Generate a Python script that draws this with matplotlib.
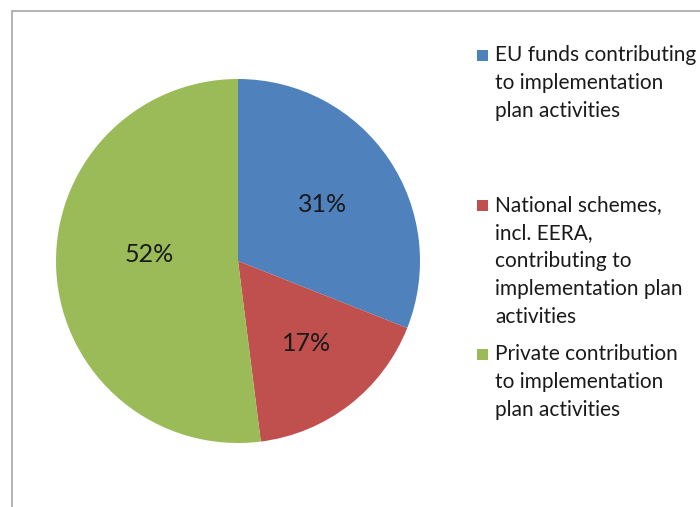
import matplotlib.pyplot as plt
from matplotlib.patches import Rectangle

# funding shares, in percent
labels = ['EU funds contributing\nto implementation\nplan activities',
          'National schemes,\nincl. EERA,\ncontributing to\nimplementation plan\nactivities',
          'Private contribution\nto implementation\nplan activities']
shares = [31, 17, 52]
colors = ['#4F81BD', '#C0504D', '#9BBB59']

plt.rcParams['font.family'] = ['Lato', 'DejaVu Sans']

W, H = 700, 507
fig = plt.figure(figsize=(W / 100, H / 100), dpi=100)

# thin grey chart frame
fig.add_artist(Rectangle((11.5 / W, -0.1), 1.2, 1 - 10.5 / H + 0.1,
                         transform=fig.transFigure, fill=False,
                         edgecolor='#A6A6A6', linewidth=1.2))

# pie area: center (238, 261) px, radius 182 px
cx, cy, r = 238, 261, 182
ax = fig.add_axes([(cx - r) / W, (H - cy - r) / H, 2 * r / W, 2 * r / H])
wedges, texts, autotexts = ax.pie(shares, colors=colors, startangle=90,
                                  counterclock=False, autopct='%d%%',
                                  textprops={'fontsize': 18, 'color': '#1a1a1a'})
# percentage labels placed like the spreadsheet does (radius units)
pct_pos = [(0.467, 0.313), (0.376, -0.456), (-0.489, 0.033)]
for t, p in zip(autotexts, pct_pos):
    t.set_position(p)
ax.set_xlim(-1, 1)
ax.set_ylim(-1, 1)
ax.axis('off')

# legend on the right, marker aligned with first line
line_h = 28
tops = [55, 205, 354]
for lab, col, y0 in zip(labels, colors, tops):
    fig.add_artist(Rectangle((477 / W, 1 - (y0 + 5.5) / H), 11 / W, 11 / H,
                             transform=fig.transFigure, facecolor=col,
                             edgecolor='none'))
    for i, line in enumerate(lab.split('\n')):
        fig.text(495 / W, 1 - (y0 + i * line_h) / H, line, fontsize=15,
                 va='center', ha='left', color='#1a1a1a')

fig.savefig('out.png', dpi=100)
